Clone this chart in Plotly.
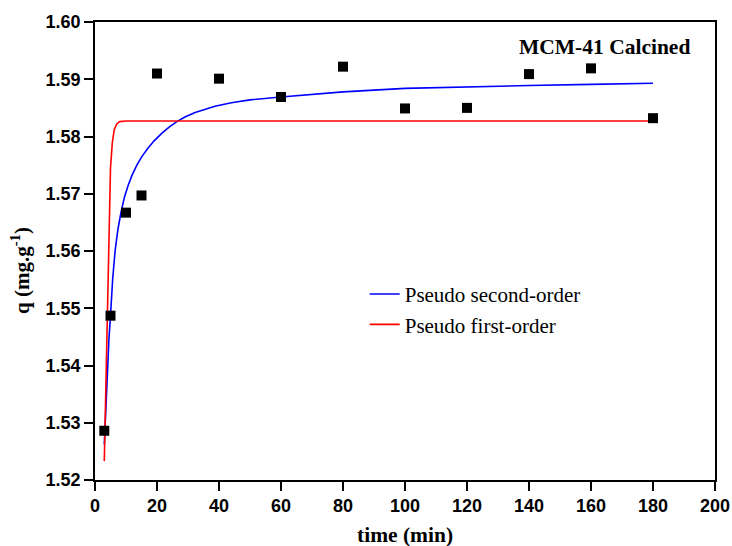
import plotly.graph_objects as go

# Experimental data
t_exp = [3, 5, 10, 15, 20, 40, 60, 80, 100, 120, 140, 160, 180]
q_exp = [1.5286, 1.5487, 1.5667, 1.5697, 1.5910, 1.5901, 1.5869, 1.5922,
         1.5849, 1.5850, 1.5909, 1.5919, 1.5832]

# Pseudo second-order fit curve
t_pso = [3, 3.5, 4, 4.5, 5, 5.7, 6.5, 7.4, 8.4, 9.5, 10.7, 12, 13.5, 15, 17,
         19, 21.6, 24, 26.4, 29, 32.3, 35, 38.7, 44, 50, 60, 70, 80, 100,
         120, 140, 160, 180]
q_pso = [1.5262, 1.5335, 1.5398, 1.5447, 1.5487, 1.5551, 1.5601, 1.5638,
         1.5668, 1.5694, 1.5715, 1.5733, 1.5750, 1.5764, 1.5779, 1.5792,
         1.5806, 1.5817, 1.5826, 1.5834, 1.5842, 1.5847, 1.5853, 1.5859,
         1.5864, 1.5869, 1.5874, 1.5878, 1.5884, 1.5887, 1.5889, 1.5891,
         1.5893]

# Pseudo first-order fit curve
t_pfo = [3, 5, 5.6, 6.2, 7, 8, 10, 20, 60, 100, 140, 180]
q_pfo = [1.5233, 1.5745, 1.5790, 1.5812, 1.5822, 1.5826, 1.5827, 1.5827,
         1.5827, 1.5827, 1.5827, 1.5827]

x_ticks = [0, 20, 40, 60, 80, 100, 120, 140, 160, 180, 200]
y_ticks = [1.52, 1.53, 1.54, 1.55, 1.56, 1.57, 1.58, 1.59, 1.60]

fig = go.Figure()
fig.add_trace(go.Scatter(x=t_pso, y=q_pso, mode="lines", name="Pseudo second-order",
                         line=dict(color="#0000FF", width=1.6)))
fig.add_trace(go.Scatter(x=t_pfo, y=q_pfo, mode="lines", name="Pseudo first-order",
                         line=dict(color="#FF0000", width=1.6)))
fig.add_trace(go.Scatter(x=t_exp, y=q_exp, mode="markers", name="Experimental",
                         showlegend=False,
                         marker=dict(symbol="square", size=10, color="black")))

axis_common = dict(showgrid=False, zeroline=False, showline=True, linecolor="black",
                   linewidth=1.5, mirror=True, ticks="outside", ticklen=9, tickwidth=1.5,
                   tickcolor="black", automargin=False,
                   tickfont=dict(family="Liberation Sans", size=18, color="black", weight="bold"))

fig.update_xaxes(range=[0, 200], tickvals=x_ticks, **axis_common)
fig.update_yaxes(range=[1.52, 1.60], tickvals=y_ticks, tickformat=".2f", **axis_common)

fig.update_layout(
    width=732, height=546,
    margin=dict(l=95, r=17, t=22, b=66),
    plot_bgcolor="white", paper_bgcolor="white",
    legend=dict(x=0.435, y=0.45, xanchor="left", yanchor="top",
                bgcolor="rgba(0,0,0,0)",
                font=dict(family="Liberation Serif", size=21, color="black"),
                tracegroupgap=0),
    annotations=[
        dict(text="<b>MCM-41 Calcined</b>", xref="paper", yref="paper",
             x=0.963, y=0.945, xanchor="right", yanchor="middle", showarrow=False,
             font=dict(family="Liberation Serif", size=21.5, color="black")),
        dict(text="<b>time (min)</b>", xref="paper", yref="paper",
             x=0.5, y=0, xanchor="center", yanchor="middle", yshift=-55, showarrow=False,
             font=dict(family="Liberation Serif", size=21.5, color="black")),
        dict(text="<b>q (mg.g<sup>-1</sup>)</b>", xref="paper", yref="paper",
             x=0, y=0.5, xanchor="center", yanchor="middle", xshift=-75, yshift=-20,
             textangle=-90, showarrow=False,
             font=dict(family="Liberation Serif", size=21, color="black")),
    ],
)

fig.write_html("out.html")
